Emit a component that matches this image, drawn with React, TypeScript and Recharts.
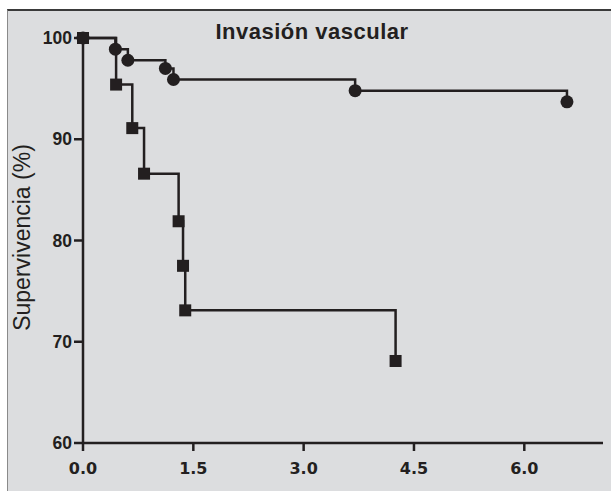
import { Line, LineChart, XAxis, YAxis } from 'recharts';

// time in years, survival in %
const circleTime = [0, 0.44, 0.61, 1.12, 1.23, 3.7, 6.58];
const circleSurvival = [100, 98.9, 97.8, 97.0, 95.9, 94.8, 93.7];

const squareTime = [0, 0.45, 0.67, 0.83, 1.3, 1.36, 1.39, 4.25];
const squareSurvival = [100, 95.4, 91.1, 86.6, 81.9, 77.5, 73.1, 68.1];

const xTicks = [0, 1.5, 3, 4.5, 6];
const yTicks = [60, 70, 80, 90, 100];

const title = 'Invasión vascular';
const yLabel = 'Supervivencia (%)';

const ink = '#231f20';
const bg = '#dcdddf';

const circles = circleTime.map((t, i) => ({ t, s: circleSurvival[i] }));
const squares = squareTime.map((t, i) => ({ t, s: squareSurvival[i] }));

const CircleDot = (props: any) => (
  <circle key={`c-${props.index}`} cx={props.cx} cy={props.cy} r={6.5} fill={ink} />
);

const SquareDot = (props: any) => (
  <rect key={`s-${props.index}`} x={props.cx - 6} y={props.cy - 6} width={12} height={12} fill={ink} />
);

const YLabel = ({ viewBox }: any) => {
  const x = viewBox.x - 1;
  const y = viewBox.y + viewBox.height / 2 - 3;
  return (
    <text
      x={x}
      y={y}
      transform={`rotate(-90 ${x} ${y})`}
      textAnchor="middle"
      dominantBaseline="central"
      fontFamily="'Liberation Sans', Arial, sans-serif"
      fontSize={23}
      fill={ink}
    >
      {yLabel}
    </text>
  );
};

export default function App() {
  return (
    <div
      style={{
        position: 'absolute',
        left: 7,
        top: 9,
        width: 604,
        height: 482,
        background: bg,
        borderTop: '2px solid #3a3a3a',
        borderLeft: '1px solid #8a8a8a',
        boxSizing: 'border-box',
      }}
    >
      <div
        style={{
          position: 'absolute',
          left: 0,
          width: 604,
          top: 8,
          textAlign: 'center',
          paddingLeft: 2,
          fontFamily: "'Liberation Sans', Arial, sans-serif",
          fontWeight: 'bold',
          fontSize: 22,
          letterSpacing: 0.5,
          color: ink,
          lineHeight: '26px',
        }}
      >
        {title}
      </div>
      <div style={{ position: 'absolute', left: -1, top: -2 }}>
        <LineChart width={604} height={482} margin={{ top: 29, right: 8, bottom: 18, left: 16 }}>
          <XAxis
            type="number"
            dataKey="t"
            domain={[0, 7.07]}
            ticks={xTicks}
            tickFormatter={(v) => Number(v).toFixed(1)}
            height={30}
            tickSize={8}
            tickMargin={12}
            axisLine={{ stroke: ink, strokeWidth: 2.5 }}
            tickLine={{ stroke: ink, strokeWidth: 2.5 }}
            tick={{ fill: ink, fontFamily: "'DejaVu Sans', sans-serif", fontWeight: 'bold', fontSize: 16 }}
          />
          <YAxis
            type="number"
            domain={[60, 100]}
            ticks={yTicks}
            width={60}
            tickSize={9}
            tickMargin={2}
            axisLine={{ stroke: ink, strokeWidth: 2.5 }}
            tickLine={{ stroke: ink, strokeWidth: 2.5 }}
            tick={{ fill: ink, fontFamily: "'Liberation Sans', Arial, sans-serif", fontWeight: 'bold', fontSize: 17.5 }}
            label={<YLabel />}
          />
          <Line
            data={squares}
            dataKey="s"
            type="stepAfter"
            stroke={ink}
            strokeWidth={2.5}
            dot={SquareDot}
            activeDot={false}
            isAnimationActive={false}
          />
          <Line
            data={circles}
            dataKey="s"
            type="stepAfter"
            stroke={ink}
            strokeWidth={2.5}
            dot={CircleDot}
            activeDot={false}
            isAnimationActive={false}
          />
        </LineChart>
      </div>
    </div>
  );
}
